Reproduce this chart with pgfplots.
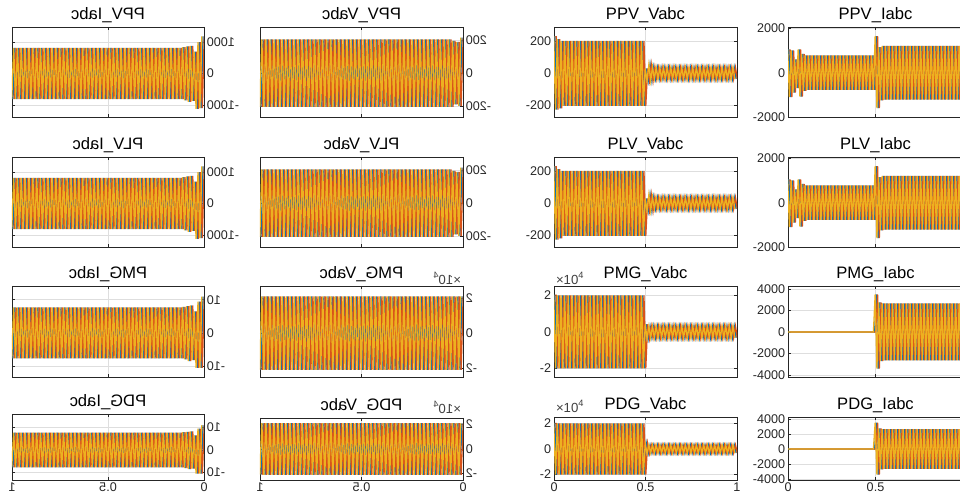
\documentclass[border=0pt]{standalone}
\usepackage{pgfplots}
\pgfplotsset{compat=1.18}
\usepackage{pgfplotstable}
\usepackage{graphicx}
\usepackage{fontspec}
\setmainfont{Liberation Sans}
\definecolor{mA}{rgb}{0,0.447,0.741}
\definecolor{mB}{rgb}{0.85,0.325,0.098}
\definecolor{mC}{rgb}{0.929,0.694,0.125}

% right Vabc (PPV/PLV)
\pgfplotstableread[row sep=\\]{
t y\\
0.005 235\\0.015 -230\\0.025 215\\0.035 -222\\0.045 205\\0.055 -205\\0.065 205\\0.075 -205\\0.085 205\\0.095 -205\\
0.105 205\\0.115 -205\\0.125 205\\0.135 -205\\0.145 205\\0.155 -205\\0.165 205\\0.175 -205\\0.185 205\\0.195 -205\\
0.205 205\\0.215 -205\\0.225 205\\0.235 -205\\0.245 205\\0.255 -205\\0.265 205\\0.275 -205\\0.285 205\\0.295 -205\\
0.305 205\\0.315 -205\\0.325 205\\0.335 -205\\0.345 205\\0.355 -205\\0.365 205\\0.375 -205\\0.385 205\\0.395 -205\\
0.405 205\\0.415 -205\\0.425 205\\0.435 -205\\0.445 205\\0.455 -205\\0.465 205\\0.475 -205\\0.485 205\\0.495 -205\\
0.505 30\\0.515 -48\\0.525 55\\0.535 -48\\0.545 40\\0.555 -36\\0.565 36\\0.575 -36\\0.585 36\\0.595 -36\\
0.605 36\\0.615 -36\\0.625 36\\0.635 -36\\0.645 36\\0.655 -36\\0.665 36\\0.675 -36\\0.685 36\\0.695 -36\\
0.705 36\\0.715 -36\\0.725 36\\0.735 -36\\0.745 36\\0.755 -36\\0.765 36\\0.775 -36\\0.785 36\\0.795 -36\\
0.805 36\\0.815 -36\\0.825 36\\0.835 -36\\0.845 36\\0.855 -36\\0.865 36\\0.875 -36\\0.885 36\\0.895 -36\\
0.905 36\\0.915 -36\\0.925 36\\0.935 -36\\0.945 36\\0.955 -36\\0.965 36\\0.975 -36\\0.985 36\\0.995 -36\\
}\RV

% right Iabc (PPV/PLV)
\pgfplotstableread[row sep=\\]{
t y\\
0.005 1050\\0.015 -1100\\0.025 1000\\0.035 -900\\0.045 600\\0.055 -700\\0.065 1050\\0.075 -1080\\0.085 850\\0.095 -820\\
0.105 780\\0.115 -780\\0.125 780\\0.135 -780\\0.145 780\\0.155 -780\\0.165 780\\0.175 -780\\0.185 780\\0.195 -780\\
0.205 780\\0.215 -780\\0.225 780\\0.235 -780\\0.245 780\\0.255 -780\\0.265 780\\0.275 -780\\0.285 780\\0.295 -780\\
0.305 780\\0.315 -780\\0.325 780\\0.335 -780\\0.345 780\\0.355 -780\\0.365 780\\0.375 -780\\0.385 780\\0.395 -780\\
0.405 780\\0.415 -780\\0.425 780\\0.435 -780\\0.445 780\\0.455 -780\\0.465 780\\0.475 -780\\0.485 780\\0.495 -780\\
0.505 1650\\0.515 -1600\\0.525 1150\\0.535 -1250\\0.545 1210\\0.555 -1210\\0.565 1210\\0.575 -1210\\0.585 1210\\0.595 -1210\\
0.605 1210\\0.615 -1210\\0.625 1210\\0.635 -1210\\0.645 1210\\0.655 -1210\\0.665 1210\\0.675 -1210\\0.685 1210\\0.695 -1210\\
0.705 1210\\0.715 -1210\\0.725 1210\\0.735 -1210\\0.745 1210\\0.755 -1210\\0.765 1210\\0.775 -1210\\0.785 1210\\0.795 -1210\\
0.805 1210\\0.815 -1210\\0.825 1210\\0.835 -1210\\0.845 1210\\0.855 -1210\\0.865 1210\\0.875 -1210\\0.885 1210\\0.895 -1210\\
0.905 1210\\0.915 -1210\\0.925 1210\\0.935 -1210\\0.945 1210\\0.955 -1210\\0.965 1210\\0.975 -1210\\0.985 1210\\0.995 -1210\\
}\RI

% right Vabc (PMG/PDG), x 10^4
\pgfplotstableread[row sep=\\]{
t y\\
0.005 2.05\\0.015 -2\\0.025 2\\0.035 -2\\0.045 2\\0.055 -2\\0.065 2\\0.075 -2\\0.085 2\\0.095 -2\\
0.105 2\\0.115 -2\\0.125 2\\0.135 -2\\0.145 2\\0.155 -2\\0.165 2\\0.175 -2\\0.185 2\\0.195 -2\\
0.205 2\\0.215 -2\\0.225 2\\0.235 -2\\0.245 2\\0.255 -2\\0.265 2\\0.275 -2\\0.285 2\\0.295 -2\\
0.305 2\\0.315 -2\\0.325 2\\0.335 -2\\0.345 2\\0.355 -2\\0.365 2\\0.375 -2\\0.385 2\\0.395 -2\\
0.405 2\\0.415 -2\\0.425 2\\0.435 -2\\0.445 2\\0.455 -2\\0.465 2\\0.475 -2\\0.485 2\\0.495 -2\\
0.505 0.42\\0.515 -0.36\\0.525 0.32\\0.535 -0.32\\0.545 0.32\\0.555 -0.32\\0.565 0.32\\0.575 -0.32\\0.585 0.32\\0.595 -0.32\\
0.605 0.32\\0.615 -0.32\\0.625 0.32\\0.635 -0.32\\0.645 0.32\\0.655 -0.32\\0.665 0.32\\0.675 -0.32\\0.685 0.32\\0.695 -0.32\\
0.705 0.32\\0.715 -0.32\\0.725 0.32\\0.735 -0.32\\0.745 0.32\\0.755 -0.32\\0.765 0.32\\0.775 -0.32\\0.785 0.32\\0.795 -0.32\\
0.805 0.32\\0.815 -0.32\\0.825 0.32\\0.835 -0.32\\0.845 0.32\\0.855 -0.32\\0.865 0.32\\0.875 -0.32\\0.885 0.32\\0.895 -0.32\\
0.905 0.32\\0.915 -0.32\\0.925 0.32\\0.935 -0.32\\0.945 0.32\\0.955 -0.32\\0.965 0.32\\0.975 -0.32\\0.985 0.32\\0.995 -0.32\\
}\RMV

% right Iabc (PMG/PDG)
\pgfplotstableread[row sep=\\]{
t y\\
0.005 0\\0.015 0\\0.025 0\\0.035 0\\0.045 0\\0.055 0\\0.065 0\\0.075 0\\0.085 0\\0.095 0\\
0.105 0\\0.115 0\\0.125 0\\0.135 0\\0.145 0\\0.155 0\\0.165 0\\0.175 0\\0.185 0\\0.195 0\\
0.205 0\\0.215 0\\0.225 0\\0.235 0\\0.245 0\\0.255 0\\0.265 0\\0.275 0\\0.285 0\\0.295 0\\
0.305 0\\0.315 0\\0.325 0\\0.335 0\\0.345 0\\0.355 0\\0.365 0\\0.375 0\\0.385 0\\0.395 0\\
0.405 0\\0.415 0\\0.425 0\\0.435 0\\0.445 0\\0.455 0\\0.465 0\\0.475 0\\0.485 0\\0.495 0\\
0.505 3500\\0.515 -3400\\0.525 2750\\0.535 -2700\\0.545 2650\\0.555 -2650\\0.565 2650\\0.575 -2650\\0.585 2650\\0.595 -2650\\
0.605 2650\\0.615 -2650\\0.625 2650\\0.635 -2650\\0.645 2650\\0.655 -2650\\0.665 2650\\0.675 -2650\\0.685 2650\\0.695 -2650\\
0.705 2650\\0.715 -2650\\0.725 2650\\0.735 -2650\\0.745 2650\\0.755 -2650\\0.765 2650\\0.775 -2650\\0.785 2650\\0.795 -2650\\
0.805 2650\\0.815 -2650\\0.825 2650\\0.835 -2650\\0.845 2650\\0.855 -2650\\0.865 2650\\0.875 -2650\\0.885 2650\\0.895 -2650\\
0.905 2650\\0.915 -2650\\0.925 2650\\0.935 -2650\\0.945 2650\\0.955 -2650\\0.965 2650\\0.975 -2650\\0.985 2650\\0.995 -2650\\
}\RMI

% left (mirrored) Iabc (PPV/PLV)
\pgfplotstableread[row sep=\\]{
t y\\
0.005 1180\\0.015 -1100\\0.025 1000\\0.035 -1120\\0.045 700\\0.055 -870\\0.065 880\\0.075 -900\\0.085 860\\0.095 -850\\
0.105 840\\0.115 -815\\0.125 815\\0.135 -815\\0.145 815\\0.155 -815\\0.165 815\\0.175 -815\\0.185 815\\0.195 -815\\
0.205 815\\0.215 -815\\0.225 815\\0.235 -815\\0.245 815\\0.255 -815\\0.265 815\\0.275 -815\\0.285 815\\0.295 -815\\
0.305 815\\0.315 -815\\0.325 815\\0.335 -815\\0.345 815\\0.355 -815\\0.365 815\\0.375 -815\\0.385 815\\0.395 -815\\
0.405 815\\0.415 -815\\0.425 815\\0.435 -815\\0.445 815\\0.455 -815\\0.465 815\\0.475 -815\\0.485 815\\0.495 -815\\
0.505 815\\0.515 -815\\0.525 815\\0.535 -815\\0.545 815\\0.555 -815\\0.565 815\\0.575 -815\\0.585 815\\0.595 -815\\
0.605 815\\0.615 -815\\0.625 815\\0.635 -815\\0.645 815\\0.655 -815\\0.665 815\\0.675 -815\\0.685 815\\0.695 -815\\
0.705 815\\0.715 -815\\0.725 815\\0.735 -815\\0.745 815\\0.755 -815\\0.765 815\\0.775 -815\\0.785 815\\0.795 -815\\
0.805 815\\0.815 -815\\0.825 815\\0.835 -815\\0.845 815\\0.855 -815\\0.865 815\\0.875 -815\\0.885 815\\0.895 -815\\
0.905 815\\0.915 -815\\0.925 815\\0.935 -815\\0.945 815\\0.955 -815\\0.965 815\\0.975 -815\\0.985 815\\0.995 -815\\
}\LI

% left (mirrored) Vabc (PPV/PLV)
\pgfplotstableread[row sep=\\]{
t y\\
0.005 215\\0.015 -200\\0.025 190\\0.035 -190\\0.045 195\\0.055 -205\\0.065 205\\0.075 -205\\0.085 205\\0.095 -205\\
0.105 205\\0.115 -205\\0.125 205\\0.135 -205\\0.145 205\\0.155 -205\\0.165 205\\0.175 -205\\0.185 205\\0.195 -205\\
0.205 205\\0.215 -205\\0.225 205\\0.235 -205\\0.245 205\\0.255 -205\\0.265 205\\0.275 -205\\0.285 205\\0.295 -205\\
0.305 205\\0.315 -205\\0.325 205\\0.335 -205\\0.345 205\\0.355 -205\\0.365 205\\0.375 -205\\0.385 205\\0.395 -205\\
0.405 205\\0.415 -205\\0.425 205\\0.435 -205\\0.445 205\\0.455 -205\\0.465 205\\0.475 -205\\0.485 205\\0.495 -205\\
0.505 205\\0.515 -205\\0.525 205\\0.535 -205\\0.545 205\\0.555 -205\\0.565 205\\0.575 -205\\0.585 205\\0.595 -205\\
0.605 205\\0.615 -205\\0.625 205\\0.635 -205\\0.645 205\\0.655 -205\\0.665 205\\0.675 -205\\0.685 205\\0.695 -205\\
0.705 205\\0.715 -205\\0.725 205\\0.735 -205\\0.745 205\\0.755 -205\\0.765 205\\0.775 -205\\0.785 205\\0.795 -205\\
0.805 205\\0.815 -205\\0.825 205\\0.835 -205\\0.845 205\\0.855 -205\\0.865 205\\0.875 -205\\0.885 205\\0.895 -205\\
0.905 205\\0.915 -205\\0.925 205\\0.935 -205\\0.945 205\\0.955 -205\\0.965 205\\0.975 -205\\0.985 205\\0.995 -205\\
}\LV

% left (mirrored) Iabc (PMG/PDG)
\pgfplotstableread[row sep=\\]{
t y\\
0.005 11\\0.015 -10.5\\0.025 9.5\\0.035 -10.5\\0.045 6.5\\0.055 -8.2\\0.065 8.3\\0.075 -8.5\\0.085 8.1\\0.095 -8\\
0.105 7.9\\0.115 -7.7\\0.125 7.7\\0.135 -7.7\\0.145 7.7\\0.155 -7.7\\0.165 7.7\\0.175 -7.7\\0.185 7.7\\0.195 -7.7\\
0.205 7.7\\0.215 -7.7\\0.225 7.7\\0.235 -7.7\\0.245 7.7\\0.255 -7.7\\0.265 7.7\\0.275 -7.7\\0.285 7.7\\0.295 -7.7\\
0.305 7.7\\0.315 -7.7\\0.325 7.7\\0.335 -7.7\\0.345 7.7\\0.355 -7.7\\0.365 7.7\\0.375 -7.7\\0.385 7.7\\0.395 -7.7\\
0.405 7.7\\0.415 -7.7\\0.425 7.7\\0.435 -7.7\\0.445 7.7\\0.455 -7.7\\0.465 7.7\\0.475 -7.7\\0.485 7.7\\0.495 -7.7\\
0.505 7.7\\0.515 -7.7\\0.525 7.7\\0.535 -7.7\\0.545 7.7\\0.555 -7.7\\0.565 7.7\\0.575 -7.7\\0.585 7.7\\0.595 -7.7\\
0.605 7.7\\0.615 -7.7\\0.625 7.7\\0.635 -7.7\\0.645 7.7\\0.655 -7.7\\0.665 7.7\\0.675 -7.7\\0.685 7.7\\0.695 -7.7\\
0.705 7.7\\0.715 -7.7\\0.725 7.7\\0.735 -7.7\\0.745 7.7\\0.755 -7.7\\0.765 7.7\\0.775 -7.7\\0.785 7.7\\0.795 -7.7\\
0.805 7.7\\0.815 -7.7\\0.825 7.7\\0.835 -7.7\\0.845 7.7\\0.855 -7.7\\0.865 7.7\\0.875 -7.7\\0.885 7.7\\0.895 -7.7\\
0.905 7.7\\0.915 -7.7\\0.925 7.7\\0.935 -7.7\\0.945 7.7\\0.955 -7.7\\0.965 7.7\\0.975 -7.7\\0.985 7.7\\0.995 -7.7\\
}\LMI

% left (mirrored) Vabc (PMG/PDG), x 10^4
\pgfplotstableread[row sep=\\]{
t y\\
0.005 2.1\\0.015 -2.1\\0.025 2.1\\0.035 -2.1\\0.045 2.1\\0.055 -2.1\\0.065 2.1\\0.075 -2.1\\0.085 2.1\\0.095 -2.1\\
0.105 2.1\\0.115 -2.1\\0.125 2.1\\0.135 -2.1\\0.145 2.1\\0.155 -2.1\\0.165 2.1\\0.175 -2.1\\0.185 2.1\\0.195 -2.1\\
0.205 2.1\\0.215 -2.1\\0.225 2.1\\0.235 -2.1\\0.245 2.1\\0.255 -2.1\\0.265 2.1\\0.275 -2.1\\0.285 2.1\\0.295 -2.1\\
0.305 2.1\\0.315 -2.1\\0.325 2.1\\0.335 -2.1\\0.345 2.1\\0.355 -2.1\\0.365 2.1\\0.375 -2.1\\0.385 2.1\\0.395 -2.1\\
0.405 2.1\\0.415 -2.1\\0.425 2.1\\0.435 -2.1\\0.445 2.1\\0.455 -2.1\\0.465 2.1\\0.475 -2.1\\0.485 2.1\\0.495 -2.1\\
0.505 2.1\\0.515 -2.1\\0.525 2.1\\0.535 -2.1\\0.545 2.1\\0.555 -2.1\\0.565 2.1\\0.575 -2.1\\0.585 2.1\\0.595 -2.1\\
0.605 2.1\\0.615 -2.1\\0.625 2.1\\0.635 -2.1\\0.645 2.1\\0.655 -2.1\\0.665 2.1\\0.675 -2.1\\0.685 2.1\\0.695 -2.1\\
0.705 2.1\\0.715 -2.1\\0.725 2.1\\0.735 -2.1\\0.745 2.1\\0.755 -2.1\\0.765 2.1\\0.775 -2.1\\0.785 2.1\\0.795 -2.1\\
0.805 2.1\\0.815 -2.1\\0.825 2.1\\0.835 -2.1\\0.845 2.1\\0.855 -2.1\\0.865 2.1\\0.875 -2.1\\0.885 2.1\\0.895 -2.1\\
0.905 2.1\\0.915 -2.1\\0.925 2.1\\0.935 -2.1\\0.945 2.1\\0.955 -2.1\\0.965 2.1\\0.975 -2.1\\0.985 2.1\\0.995 -2.1\\
}\LMV

\newcommand{\threephase}[1]{%
  \addplot[mA, line width=0.65pt] table {#1};
  \addplot[mB, line width=0.65pt, xshift=0.6pt] table {#1};
  \addplot[mC, line width=0.65pt, xshift=-0.6pt] table {#1};
}

\tikzset{tenfour/.style={font=\fontsize{6.6}{7}\selectfont, text=black!75, inner sep=0.8pt}}

\pgfplotsset{
  base/.style={scale only axis, anchor=north west, xmin=0, xmax=1, xtick={0,0.5,1},
    scaled ticks=false, grid=major, major grid style={black!13, line width=0.4pt},
    tick align=inside, major tick length=1.6pt,
    axis line style={black!85, line width=0.45pt},
    every tick/.style={black!85, line width=0.4pt},
    tick label style={font=\fontsize{6.3}{7}\selectfont, text=black!85, inner sep=1.2pt},
    title style={font=\fontsize{8.3}{9}\selectfont, text=black, at={(0.5,1)}, anchor=base, yshift=-2.5pt, inner sep=0pt},
    /pgf/number format/assume math mode=true, /pgf/number format/1000 sep={},
    every axis plot/.append style={mark=none}},
  L/.style={base, x dir=reverse, yticklabel pos=right,
    yticklabel={\reflectbox{\pgfmathprintnumber{\tick}}}},
  R/.style={base},
  nox/.style={xticklabels={}},
  botL/.style={xticklabel={\reflectbox{\pgfmathprintnumber{\tick}}}},
  botR/.style={xticklabel={\pgfmathprintnumber{\tick}}},
}

\begin{document}
\begin{tikzpicture}
\useasboundingbox (0,0) rectangle (480pt,-248.5pt);

% ---------- left (mirrored) figure ----------
\begin{axis}[L, nox, at={(6pt,-13.5pt)}, width=96pt, height=45pt,
  ymin=-1380, ymax=1480, ytick={-1000,0,1000}, title={\reflectbox{PPV\_Iabc}}]
\threephase{\LI}
\end{axis}
\begin{axis}[L, nox, at={(130pt,-13.5pt)}, width=101.5pt, height=45pt,
  ymin=-267, ymax=280, ytick={-200,0,200}, title={\reflectbox{PPV\_Vabc}}]
\threephase{\LV}
\end{axis}
\begin{axis}[L, nox, at={(6pt,-78.5pt)}, width=96pt, height=45pt,
  ymin=-1380, ymax=1480, ytick={-1000,0,1000}, title={\reflectbox{PLV\_Iabc}}]
\threephase{\LI}
\end{axis}
\begin{axis}[L, nox, at={(130pt,-78.5pt)}, width=101.5pt, height=45pt,
  ymin=-267, ymax=280, ytick={-200,0,200}, title={\reflectbox{PLV\_Vabc}}]
\threephase{\LV}
\end{axis}
\begin{axis}[L, nox, at={(6pt,-143pt)}, width=96pt, height=45.5pt,
  ymin=-13.3, ymax=14.2, ytick={-10,0,10}, title={\reflectbox{PMG\_Iabc}}]
\threephase{\LMI}
\end{axis}
\begin{axis}[L, nox, name=lmv3, at={(130pt,-143pt)}, width=101.5pt, height=45.5pt,
  ymin=-2.51, ymax=2.69, ytick={-2,0,2}, title={\reflectbox{PMG\_Vabc}}]
\threephase{\LMV}
\end{axis}
\begin{axis}[L, botL, at={(6pt,-207pt)}, width=96pt, height=33pt,
  ymin=-13.3, ymax=16, ytick={-10,0,10}, title={\reflectbox{PDG\_Iabc}}]
\threephase{\LMI}
\end{axis}
\begin{axis}[L, botL, name=lmv4, at={(130pt,-209pt)}, width=101.5pt, height=31pt,
  ymin=-2.53, ymax=2.53, ytick={-2,0,2}, title={\reflectbox{PDG\_Vabc}}]
\threephase{\LMV}
\end{axis}
\node[tenfour, anchor=south east] at ([yshift=-0.2pt]lmv3.north east) {\reflectbox{×10\textsuperscript{4}}};
\node[tenfour, anchor=south east] at ([yshift=1pt]lmv4.north east) {\reflectbox{×10\textsuperscript{4}}};

% ---------- right figure ----------
\begin{axis}[R, nox, at={(277pt,-13.5pt)}, width=91.5pt, height=45pt,
  ymin=-276, ymax=292, ytick={-200,0,200}, title={PPV\_Vabc}]
\threephase{\RV}
\end{axis}
\begin{axis}[R, nox, at={(394pt,-13.5pt)}, width=87.5pt, height=45pt,
  ymin=-2000, ymax=2060, ytick={-2000,0,2000}, title={PPV\_Iabc}]
\threephase{\RI}
\end{axis}
\begin{axis}[R, nox, at={(277pt,-78.5pt)}, width=91.5pt, height=45pt,
  ymin=-276, ymax=292, ytick={-200,0,200}, title={PLV\_Vabc}]
\threephase{\RV}
\end{axis}
\begin{axis}[R, nox, at={(394pt,-78.5pt)}, width=87.5pt, height=45pt,
  ymin=-2000, ymax=2060, ytick={-2000,0,2000}, title={PLV\_Iabc}]
\threephase{\RI}
\end{axis}
\begin{axis}[R, nox, name=rmv3, at={(277pt,-143pt)}, width=91.5pt, height=45.5pt,
  ymin=-2.47, ymax=2.52, ytick={-2,0,2}, title={PMG\_Vabc}]
\threephase{\RMV}
\end{axis}
\begin{axis}[R, nox, at={(394pt,-143pt)}, width=87.5pt, height=45.5pt,
  ymin=-4190, ymax=4280, ytick={-4000,-2000,0,2000,4000}, title={PMG\_Iabc}]
\threephase{\RMI}
\end{axis}
\begin{axis}[R, botR, name=rmv4, at={(277pt,-208.5pt)}, width=91.5pt, height=31.5pt,
  ymin=-2.43, ymax=2.51, ytick={-2,0,2}, title={PDG\_Vabc}]
\threephase{\RMV}
\end{axis}
\begin{axis}[R, botR, at={(394pt,-208.5pt)}, width=87.5pt, height=31.5pt,
  ymin=-4130, ymax=4270, ytick={-4000,-2000,0,2000,4000}, title={PDG\_Iabc}]
\threephase{\RMI}
\end{axis}
\node[tenfour, anchor=south west] at ([yshift=-0.2pt]rmv3.north west) {×10\textsuperscript{4}};
\node[tenfour, anchor=south west] at ([yshift=1pt]rmv4.north west) {×10\textsuperscript{4}};
\end{tikzpicture}
\end{document}
